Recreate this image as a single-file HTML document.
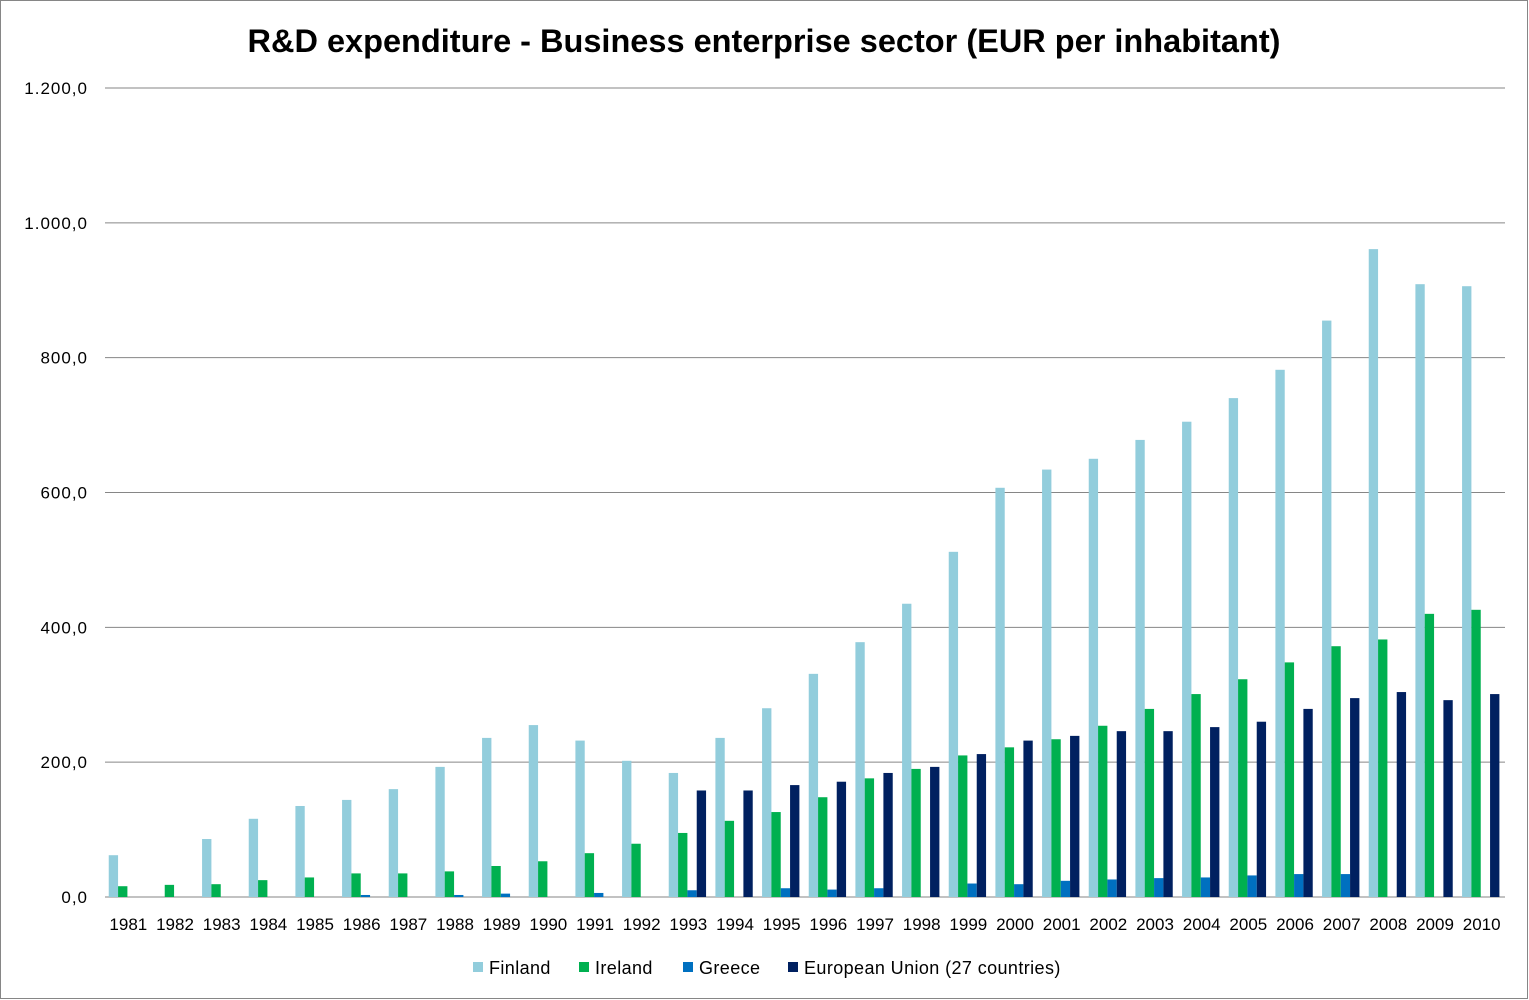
<!DOCTYPE html>
<html><head><meta charset="utf-8"><style>
body{margin:0;background:#fff;}
svg{display:block;font-family:"Liberation Sans",sans-serif;}
</style></head><body>
<svg id="chart" width="1529" height="1000">
<rect x="0.5" y="0.5" width="1527" height="998" fill="#fff" stroke="#868686"/>
<text x="764" y="52" text-anchor="middle" font-size="32.5" font-weight="bold">R&amp;D expenditure - Business enterprise sector (EUR per inhabitant)</text>
<g id="grid"></g><g id="bars"></g><g id="xlabels"></g><g id="legend"></g>
</svg>
<script>
const years=[1981,1982,1983,1984,1985,1986,1987,1988,1989,1990,1991,1992,1993,1994,1995,1996,1997,1998,1999,2000,2001,2002,2003,2004,2005,2006,2007,2008,2009,2010];
const finland=[62,null,86,116,135,144,160,193,236,255,232,202,184,236,280,331,378,435,512,607,634,650,678,705,740,782,855,961,909,906];
const ireland=[16,18,19,25,29,35,35,38,46,53,65,79,95,113,126,148,176,190,210,222,234,254,279,301,323,348,372,382,420,426];
const greece=[null,null,null,null,null,3,null,3,5,null,6,null,10,null,13,11,13,null,20,19,24,26,28,29,32,34,34,null,null,null];
const eu=[null,null,null,null,null,null,null,null,null,null,null,null,158,158,166,171,184,193,212,232,239,246,246,252,260,279,295,304,292,301];
const yTicks=[0,200,400,600,800,1000,1200];
const yTickLabels=["0,0","200,0","400,0","600,0","800,0","1.000,0","1.200,0"];
const seriesNames=["Finland","Ireland","Greece","European Union (27 countries)"];
const NS="http://www.w3.org/2000/svg";
const X0=105,X1=1505,Y0=897,Y1=88,YMAX=1200;
const y=v=>Y0-(v/YMAX)*(Y0-Y1);
const cw=(X1-X0)/years.length, bw=cw/5;
const x=i=>X0+i*cw;
function mk(tag,attrs,parent){const e=document.createElementNS(NS,tag);for(const k in attrs)e.setAttribute(k,attrs[k]);parent.appendChild(e);return e;}
const grid=document.getElementById('grid');
yTicks.forEach((t,i)=>{
  const l=mk('line',{x1:X0,x2:X1,y1:y(t),y2:y(t),stroke:'#868686','stroke-width':1},grid);
  
  
  const tx=mk('text',{x:88,y:y(t)+6,'text-anchor':'end','font-size':17,'letter-spacing':1,fill:'#000'},grid);
  tx.textContent=yTickLabels[i];
  
  
});
const colors=["#92CDDC","#00B050","#0070C0","#002060"];
const series=[finland,ireland,greece,eu];
const bars=document.getElementById('bars');
series.forEach((s,si)=>{
  s.forEach((v,i)=>{
    if(v==null)return;
    const r=mk('rect',{x:x(i)+bw*0.4+si*bw,y:y(v),width:bw,height:Y0-y(v),fill:colors[si]},bars);
    
    
  });
});
const xl=document.getElementById('xlabels');
years.forEach((yr,i)=>{
  const t=mk('text',{x:x(i)+cw/2,y:930,'text-anchor':'middle','font-size':17},xl);
  t.textContent=yr;
  
  
});
const lg=document.getElementById('legend');
const lx=[473,579,683,788];
seriesNames.forEach((n,i)=>{
  const g=mk('g',{},lg);
  
  
  mk('rect',{x:lx[i],y:962,width:10,height:10,fill:colors[i]},g);
  const t=mk('text',{x:lx[i]+16,y:974,'font-size':18,'letter-spacing':0.4},g);
  t.textContent=n;
});
</script>
</body></html>
